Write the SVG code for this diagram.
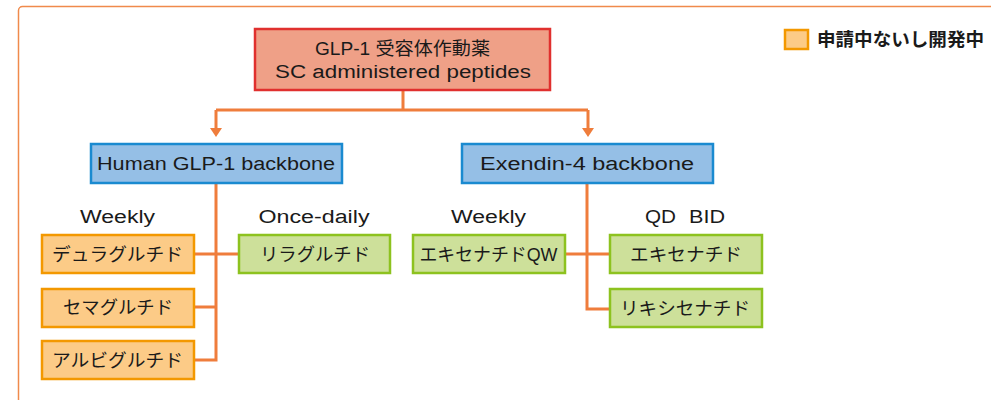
<svg xmlns="http://www.w3.org/2000/svg" width="991" height="400" viewBox="0 0 991 400">
<defs>
<style>
text { font-family: "Liberation Sans", "Noto Sans CJK JP", sans-serif; font-size: 18px; fill: #1a1a1a; text-anchor: middle; }
.jp { font-family: "Noto Sans CJK JP", sans-serif; }
.top { fill: #EFA087; stroke: #E0302E; stroke-width: 2.5; }
.blue { fill: #95BFE6; stroke: #1A8AD0; stroke-width: 2.5; }
.orange { fill: #FCCB87; stroke: #F39800; stroke-width: 2.5; }
.green { fill: #CDE09A; stroke: #8DC21F; stroke-width: 2.5; }
.conn { fill: none; stroke: #EF7D3C; stroke-width: 3; }
</style>
<marker id="arr" viewBox="0 0 10 10" refX="0" refY="5" markerWidth="9" markerHeight="12" markerUnits="userSpaceOnUse" orient="auto" preserveAspectRatio="none">
<path d="M0,0 L10,5 L0,10 z" fill="#EF7D3C"/>
</marker>
</defs>
<rect width="991" height="400" fill="#ffffff"/>
<rect x="18.5" y="6.5" width="1000" height="440" rx="4" fill="none" stroke="#F08A4B" stroke-width="1.5"/>

<g id="connectors">
<path class="conn" d="M403,90 V110 M216,110 H588"/>
<path class="conn" d="M216,110 V128" marker-end="url(#arr)"/>
<path class="conn" d="M588,110 V128" marker-end="url(#arr)"/>
<path class="conn" d="M216,183 V361.5 M194,254 H238 M194,307 H216 M194,360 H217.5"/>
<path class="conn" d="M587,183 V309 H609 M565,254 H609"/>
</g>

<g id="root">
<rect class="top" x="255" y="29" width="295" height="61"/>
<text x="402.5" y="55" textLength="175" lengthAdjust="spacingAndGlyphs">GLP-1 受容体作動薬</text>
<text x="403" y="78" textLength="256" lengthAdjust="spacingAndGlyphs">SC administered peptides</text>
</g>

<g id="human">
<rect class="blue" x="91" y="144" width="251" height="39"/>
<text x="216" y="169.5" textLength="238" lengthAdjust="spacingAndGlyphs">Human GLP-1 backbone</text>
</g>

<g id="exendin">
<rect class="blue" x="462" y="144" width="251" height="39"/>
<text x="587" y="169.5" textLength="214" lengthAdjust="spacingAndGlyphs">Exendin-4 backbone</text>
</g>

<g id="labels">
<text x="117.5" y="223" textLength="75" lengthAdjust="spacingAndGlyphs">Weekly</text>
<text x="314" y="223" textLength="111" lengthAdjust="spacingAndGlyphs">Once-daily</text>
<text x="488.5" y="223" textLength="75" lengthAdjust="spacingAndGlyphs">Weekly</text>
<text y="223" style="text-anchor:start"><tspan x="645" textLength="31" lengthAdjust="spacingAndGlyphs">QD</tspan> <tspan x="689" textLength="36" lengthAdjust="spacingAndGlyphs">BID</tspan></text>
</g>

<g id="dulaglutide">
<rect class="orange" x="42" y="235" width="152" height="38"/>
<text class="jp" x="117.5" y="260.5" textLength="131" lengthAdjust="spacingAndGlyphs">デュラグルチド</text>
</g>
<g id="semaglutide">
<rect class="orange" x="42" y="289" width="152" height="38"/>
<text class="jp" x="118" y="314" textLength="110" lengthAdjust="spacingAndGlyphs">セマグルチド</text>
</g>
<g id="albiglutide">
<rect class="orange" x="42" y="341" width="152" height="38"/>
<text class="jp" x="117.5" y="366.5" textLength="131" lengthAdjust="spacingAndGlyphs">アルビグルチド</text>
</g>
<g id="liraglutide">
<rect class="green" x="239" y="235" width="151" height="38"/>
<text class="jp" x="315" y="260.5" textLength="110" lengthAdjust="spacingAndGlyphs">リラグルチド</text>
</g>
<g id="exenatide-qw">
<rect class="green" x="413" y="235" width="152" height="38"/>
<text x="488.5" y="260.5" textLength="138" lengthAdjust="spacingAndGlyphs">エキセナチドQW</text>
</g>
<g id="exenatide">
<rect class="green" x="610" y="235" width="152" height="38"/>
<text class="jp" x="686" y="260.5" textLength="112" lengthAdjust="spacingAndGlyphs">エキセナチド</text>
</g>
<g id="lixisenatide">
<rect class="green" x="610" y="289" width="152" height="38"/>
<text class="jp" x="685" y="314.5" textLength="130" lengthAdjust="spacingAndGlyphs">リキシセナチド</text>
</g>

<g id="legend">
<rect class="orange" x="785" y="30" width="23" height="19" stroke-width="2"/>
<text class="jp" x="817" y="46" style="text-anchor:start;font-weight:bold" textLength="167" lengthAdjust="spacingAndGlyphs">申請中ないし開発中</text>
</g>
</svg>
